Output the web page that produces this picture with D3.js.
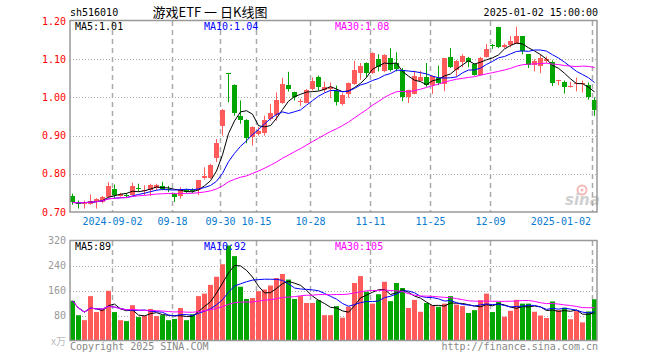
<!DOCTYPE html>
<html>
<head>
<meta charset="utf-8">
<script src="https://cdn.jsdelivr.net/npm/d3@7"></script>
<style>
  body { margin: 0; background: #fff; }
  svg text { font-family: "DejaVu Sans Mono", monospace; font-size: 10px; }
</style>
</head>
<body>
<svg id="chart" width="660" height="360"></svg>
<script>
// trading days shown
var dates = ["2024-08-22","2024-08-23","2024-08-26","2024-08-27","2024-08-28","2024-08-29","2024-08-30",
  "2024-09-02","2024-09-03","2024-09-04","2024-09-05","2024-09-06","2024-09-09","2024-09-10","2024-09-11","2024-09-12","2024-09-13",
  "2024-09-18","2024-09-19","2024-09-20","2024-09-23","2024-09-24","2024-09-25","2024-09-26","2024-09-27","2024-09-30",
  "2024-10-08","2024-10-09","2024-10-10","2024-10-11","2024-10-14","2024-10-15","2024-10-16","2024-10-17","2024-10-18",
  "2024-10-21","2024-10-22","2024-10-23","2024-10-24","2024-10-25","2024-10-28","2024-10-29","2024-10-30","2024-10-31",
  "2024-11-01","2024-11-04","2024-11-05","2024-11-06","2024-11-07","2024-11-08","2024-11-11","2024-11-12","2024-11-13",
  "2024-11-14","2024-11-15","2024-11-18","2024-11-19","2024-11-20","2024-11-21","2024-11-22","2024-11-25","2024-11-26",
  "2024-11-27","2024-11-28","2024-11-29","2024-12-02","2024-12-03","2024-12-04","2024-12-05","2024-12-06","2024-12-09",
  "2024-12-10","2024-12-11","2024-12-12","2024-12-13","2024-12-16","2024-12-17","2024-12-18","2024-12-19","2024-12-20",
  "2024-12-23","2024-12-24","2024-12-25","2024-12-26","2024-12-27","2024-12-30","2024-12-31","2025-01-02"];

var open = [0.742,0.724,0.720,0.720,0.724,0.725,0.739,0.761,0.742,0.744,0.745,0.763,0.755,0.757,0.761,0.768,0.760,
  0.748,0.742,0.758,0.757,0.757,0.787,0.790,0.842,0.926,1.064,1.032,0.952,0.942,0.896,0.905,0.909,0.944,0.952,
  0.985,1.033,1.015,0.988,0.987,1.020,1.054,1.018,1.020,1.016,0.983,1.007,1.035,1.063,1.089,1.063,1.100,1.070,
  1.103,1.091,1.072,1.002,1.010,1.044,1.054,1.032,1.050,1.035,1.105,1.072,1.092,1.103,1.087,1.059,1.106,1.136,
  1.185,1.131,1.137,1.140,1.160,1.113,1.083,1.080,1.096,1.093,1.045,1.041,1.028,1.036,1.035,1.032,0.994];
var high = [0.748,0.730,0.730,0.746,0.736,0.742,0.778,0.772,0.750,0.750,0.777,0.774,0.770,0.774,0.774,0.779,0.768,
  0.750,0.765,0.761,0.762,0.784,0.817,0.826,0.891,0.970,1.064,1.034,0.992,0.943,0.924,0.922,0.952,0.983,1.013,
  1.051,1.067,1.015,0.996,1.022,1.052,1.057,1.041,1.039,1.031,1.011,1.039,1.096,1.090,1.092,1.118,1.113,1.113,
  1.129,1.118,1.077,1.020,1.070,1.070,1.090,1.057,1.083,1.103,1.129,1.098,1.113,1.106,1.089,1.106,1.140,1.140,
  1.185,1.141,1.161,1.185,1.161,1.113,1.100,1.113,1.107,1.097,1.046,1.044,1.041,1.052,1.044,1.039,1.000];
var low = [0.719,0.709,0.709,0.719,0.709,0.723,0.737,0.737,0.740,0.739,0.743,0.754,0.744,0.742,0.757,0.757,0.752,
  0.726,0.735,0.750,0.750,0.744,0.785,0.787,0.831,0.900,0.987,0.952,0.931,0.880,0.874,0.900,0.900,0.939,0.939,
  0.983,1.015,0.992,0.978,0.985,1.018,1.018,1.013,0.998,0.979,0.979,0.999,1.033,1.046,1.052,1.061,1.068,1.066,
  1.068,1.068,0.990,0.985,1.008,1.041,1.028,1.009,1.032,1.016,1.077,1.054,1.079,1.079,1.057,1.057,1.104,1.127,
  1.129,1.129,1.131,1.140,1.113,1.077,1.068,1.063,1.090,1.030,1.032,1.010,1.026,1.016,1.013,0.994,0.952];
var close = [0.725,0.723,0.726,0.728,0.733,0.739,0.768,0.745,0.748,0.743,0.768,0.762,0.757,0.770,0.770,0.759,0.759,
  0.739,0.758,0.753,0.756,0.783,0.793,0.824,0.880,0.968,1.062,0.958,0.942,0.896,0.922,0.912,0.942,0.959,0.992,
  1.035,1.022,1.002,0.990,1.020,1.042,1.028,1.026,1.026,0.987,1.007,1.037,1.072,1.081,1.064,1.115,1.079,1.111,
  1.072,1.074,1.002,1.020,1.057,1.054,1.032,1.055,1.038,1.102,1.080,1.096,1.109,1.093,1.059,1.103,1.128,1.134,
  1.132,1.137,1.148,1.160,1.122,1.083,1.094,1.102,1.100,1.039,1.046,1.029,1.029,1.038,1.038,1.000,0.967];
// volume, in 10k
var volume = [127,81,65,142,91,100,159,91,65,62,113,75,79,101,78,81,65,69,104,65,84,142,150,178,204,244,
  304,270,172,133,136,158,163,176,200,213,195,133,142,120,120,129,81,81,110,73,108,184,206,156,118,148,188,
  126,184,168,104,130,92,120,113,108,118,142,115,110,88,97,129,150,91,123,76,95,130,118,118,92,80,72,125,
  97,105,68,94,58,93,132];

var priceTicks = [1.20,1.10,1.00,0.90,0.80,0.70];
var volTicks = [320,240,160,80];
var tickDates = ["2024-09-02","2024-09-18","2024-09-30","2024-10-15","2024-10-28","2024-11-11","2024-11-25","2024-12-09","2025-01-02"];
var tickLabels = ["2024-09-02","09-18","09-30","10-15","10-28","11-11","11-25","12-09","2025-01-02"];
var maPeriods = [5,10,30];
var maColors = ["#000000","#0000ff","#ff00ff"];

var red = "#ff5b5b", green = "#00a600";

var svg = d3.select("#chart");
var left = 70, right = 597;

var x = d3.scaleBand().domain(dates).range([left, right]).paddingInner(1/6).paddingOuter(0);
var y = d3.scaleLinear().domain([0.70, 1.20]).range([212, 21]);
var yv = d3.scaleLinear().domain([0, 320]).range([340.5, 240.5]);

function mid(d) { return Math.round(x(d)) + 2.5; }

// moving average over the points available so far
function movingAvg(arr, n) {
  return arr.map(function(v, i) {
    var s = arr.slice(Math.max(0, i - n + 1), i + 1);
    return d3.mean(s);
  });
}

var data = dates.map(function(d, i) {
  return {date: d, o: open[i], h: high[i], l: low[i], c: close[i], v: volume[i]};
});

// header
svg.append("text").attr("x", left).attr("y", 16).text("sh516010");
svg.append("text").attr("x", 210).attr("y", 17).attr("text-anchor", "middle")
   .style("font-family", "'Noto Sans CJK SC', sans-serif").style("font-size", "13px")
   .text("游戏ETF 一 日K线图");
svg.append("text").attr("x", right + 1).attr("y", 16).attr("text-anchor", "end").text("2025-01-02 15:00:00");

function panel(top, bottom, yscale, ticks, gridVals) {
  var g = svg.append("g");
  g.selectAll(".hgrid")
    .data(gridVals)
    .enter().append("line")
      .attr("x1", left).attr("x2", right)
      .attr("y1", function(d) { return Math.round(yscale(d)) + 0.5; })
      .attr("y2", function(d) { return Math.round(yscale(d)) + 0.5; })
      .attr("stroke", "#aaa").attr("stroke-dasharray", "1,2");
  g.selectAll(".vgrid")
    .data(tickDates)
    .enter().append("line")
      .attr("x1", function(d) { return Math.round(x(d)) + 0.5; })
      .attr("x2", function(d) { return Math.round(x(d)) + 0.5; })
      .attr("y1", top).attr("y2", bottom)
      .attr("stroke", "#aaa").attr("stroke-width", 1.5).attr("stroke-dasharray", "5,4");
  return g;
}

panel(21, 212, y, priceTicks, priceTicks.slice(1, -1));
panel(241, 340, yv, volTicks, volTicks.slice(1));

// price axis labels
svg.selectAll(".plabel")
  .data(priceTicks)
  .enter().append("text")
    .attr("x", 66).attr("y", function(d) { return y(d) + 3.5; })
    .attr("text-anchor", "end").attr("fill", "#ff0000")
    .text(function(d) { return d3.format(".2f")(d); });

svg.selectAll(".vlabel")
  .data(volTicks)
  .enter().append("text")
    .attr("x", 66).attr("y", function(d) { return yv(d) + 3.5; })
    .attr("text-anchor", "end").attr("fill", "#999")
    .text(function(d) { return d; });
svg.append("text").attr("x", 66).attr("y", 345).attr("text-anchor", "end")
   .attr("fill", "#bbb").style("font-family", "'Noto Sans CJK SC', sans-serif").text("x万");

// date labels
svg.selectAll(".dlabel")
  .data(tickDates)
  .enter().append("text")
    .attr("x", function(d, i) { return i == tickDates.length - 1 ? 591 : Math.round(x(d)) + 0.5; })
    .attr("y", 225)
    .attr("text-anchor", function(d, i) { return i == tickDates.length - 1 ? "end" : "middle"; })
    .attr("fill", "#0a7ad0")
    .text(function(d, i) { return tickLabels[i]; });

// sina mark
var logo = svg.append("g").attr("opacity", 0.55);
logo.append("circle").attr("cx", 582).attr("cy", 190).attr("r", 4.5).attr("fill", "none").attr("stroke", "#f08080").attr("stroke-width", 2);
logo.append("circle").attr("cx", 582).attr("cy", 190).attr("r", 1.5).attr("fill", "#f08080");
logo.append("text").attr("x", 565).attr("y", 205)
    .style("font-family", "'DejaVu Sans', sans-serif").style("font-size", "15px")
    .style("font-weight", "bold").style("font-style", "italic").attr("fill", "#aaa").text("sina");

// candles
svg.selectAll(".wick")
  .data(data)
  .enter().append("line")
    .attr("x1", function(d) { return mid(d.date); })
    .attr("x2", function(d) { return mid(d.date); })
    .attr("y1", function(d) { return y(d.h); })
    .attr("y2", function(d) { return y(d.l); })
    .attr("stroke", function(d) { return d.c >= d.o ? red : green; });

svg.selectAll(".body")
  .data(data)
  .enter().append("rect")
    .attr("x", function(d) { return Math.round(x(d.date)); })
    .attr("width", x.bandwidth())
    .attr("y", function(d) { return Math.round(y(Math.max(d.o, d.c))); })
    .attr("height", function(d) { return Math.max(1, Math.round(Math.abs(y(d.o) - y(d.c)))); })
    .style("fill", function(d) { return d.c >= d.o ? red : green; });

// volume bars
svg.selectAll(".vbar")
  .data(data)
  .enter().append("rect")
    .attr("x", function(d) { return Math.round(x(d.date)); })
    .attr("width", x.bandwidth())
    .attr("y", function(d) { return yv(d.v); })
    .attr("height", function(d) { return yv(0) - yv(d.v); })
    .style("fill", function(d) { return d.c >= d.o ? red : green; });

// moving averages
maPeriods.forEach(function(n, k) {
  var pm = movingAvg(close, n);
  var vm = movingAvg(volume, n);
  var lineP = d3.line().x(function(d, i) { return mid(dates[i]); }).y(function(d) { return y(d); });
  var lineV = d3.line().x(function(d, i) { return mid(dates[i]); }).y(function(d) { return yv(d); });
  svg.append("path").attr("d", lineP(pm)).attr("fill", "none").attr("stroke", maColors[k]).attr("stroke-width", 1);
  svg.append("path").attr("d", lineV(vm)).attr("fill", "none").attr("stroke", maColors[k]).attr("stroke-width", 1);

  var lx = [75, 204, 335][k];
  svg.append("text").attr("x", lx).attr("y", 30).attr("fill", maColors[k])
     .text("MA" + n + ":" + d3.format(".2f")(pm[pm.length - 1]));
  svg.append("text").attr("x", lx).attr("y", 250).attr("fill", maColors[k])
     .text("MA" + n + ":" + Math.round(vm[vm.length - 1]));
});

// frames
svg.append("rect").attr("x", left).attr("y", 20.5).attr("width", right - left).attr("height", 191.5)
   .attr("fill", "none").attr("stroke", "#999").attr("stroke-width", 1.5);
svg.append("rect").attr("x", left).attr("y", 240.5).attr("width", right - left).attr("height", 100)
   .attr("fill", "none").attr("stroke", "#999").attr("stroke-width", 1.5);

// footer
svg.append("text").attr("x", left).attr("y", 350).attr("fill", "#888").text("Copyright 2025 SINA.COM");
svg.append("text").attr("x", right + 1).attr("y", 350).attr("text-anchor", "end").attr("fill", "#888").text("http://finance.sina.com.cn");
</script>
</body>
</html>
